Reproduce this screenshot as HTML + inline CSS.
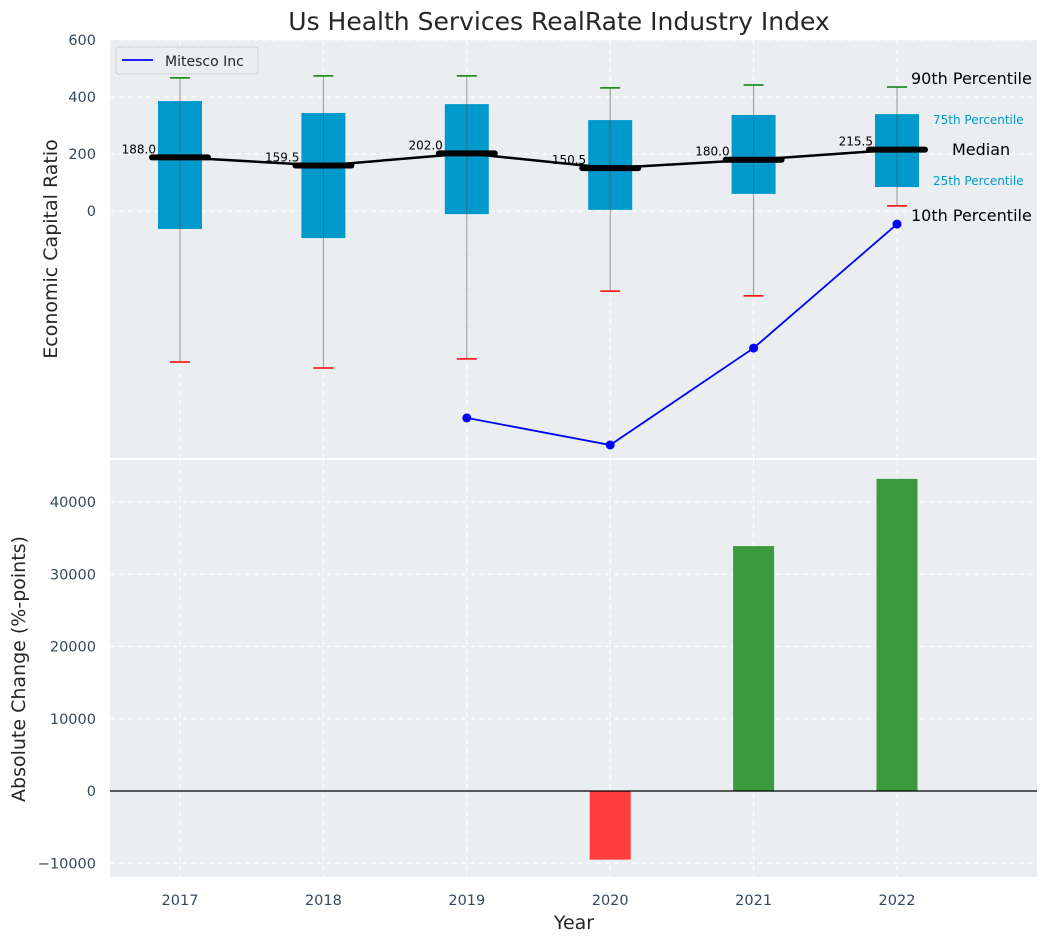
<!DOCTYPE html>
<html><head><meta charset="utf-8"><style>
body{margin:0;background:#fff;}
svg{display:block;font-family:"DejaVu Sans","Liberation Sans",sans-serif;}
</style></head><body>
<svg id="chart" width="1048" height="942" xmlns="http://www.w3.org/2000/svg"></svg>
<script>
const years=['2017','2018','2019','2020','2021','2022'];
const q75=[386,344,375,319,337,340];
const q25=[-63,-95,-11,4,60,84];
const p90=[467,474,474,432,442,435];
const p10=[-530,-551,-519,-281,-298,18];
const medians=[188.0,159.5,202.0,150.5,180.0,215.5];
const mitescoYears=['2019','2020','2021','2022'];
const mitescoVals=[-726,-821,-481,-46];
const changeVals=[null,null,null,-9500,33900,43200];
const topTicks=[600,400,200,0];
const botTicks=[40000,30000,20000,10000,0,-10000];

const NS='http://www.w3.org/2000/svg';
const svg=document.getElementById('chart');
function el(tag,attrs,parent){const e=document.createElementNS(NS,tag);for(const k in attrs)e.setAttribute(k,attrs[k]);(parent||svg).appendChild(e);return e;}
const L=110,R=1037;
const x=i=>180+i*143.4;
const xy=y=>x(years.indexOf(y));
const yT=v=>211-v*0.285;
const yB=v=>791-v*0.007225;

let t=el('text',{x:559,y:30,'text-anchor':'middle','font-size':25,fill:'#262626'});t.textContent='Us Health Services RealRate Industry Index';


let bg=el('rect',{x:L,y:40,width:R-L,height:418,fill:'#eaeef0'});

let bg2=el('rect',{x:L,y:460,width:R-L,height:417,fill:'#eaeef0'});


topTicks.forEach(v=>{
  el('line',{x1:L,x2:R,y1:yT(v),y2:yT(v),stroke:'#fff','stroke-dasharray':'5,4','stroke-width':1});
  const tx=el('text',{x:96,y:yT(v)+5,'text-anchor':'end','font-size':14.5,fill:'#34495e'});tx.textContent=v;
  
});
botTicks.forEach(v=>{
  el('line',{x1:L,x2:R,y1:yB(v),y2:yB(v),stroke:'#fff','stroke-dasharray':'5,4','stroke-width':1});
  const tx=el('text',{x:96,y:yB(v)+5,'text-anchor':'end','font-size':14.5,fill:'#34495e'});tx.textContent=(v<0?'\u2212'+(-v):v);
  
});
years.forEach((y,i)=>{
  el('line',{x1:x(i),x2:x(i),y1:40,y2:458,stroke:'#fff','stroke-dasharray':'5,4'});
  el('line',{x1:x(i),x2:x(i),y1:460,y2:877,stroke:'#fff','stroke-dasharray':'5,4'});
  const tx=el('text',{x:x(i),y:905,'text-anchor':'middle','font-size':14.5,fill:'#34495e'});tx.textContent=y;
  
});

years.forEach((y,i)=>{
  const b=el('rect',{x:x(i)-22,y:yT(q75[i]),width:44,height:yT(q25[i])-yT(q75[i]),fill:'#0099cc'});
  
  el('line',{x1:x(i),x2:x(i),y1:yT(p90[i]),y2:yT(p10[i]),stroke:'#555','stroke-opacity':0.6,'stroke-width':1});
  el('line',{x1:x(i)-10,x2:x(i)+10,y1:yT(p90[i]),y2:yT(p90[i]),stroke:'green','stroke-width':1.5});
  el('line',{x1:x(i)-10,x2:x(i)+10,y1:yT(p10[i]),y2:yT(p10[i]),stroke:'red','stroke-width':1.5});
});
let mp=el('polyline',{points:medians.map((m,i)=>x(i)+','+yT(m)).join(' '),fill:'none',stroke:'#000','stroke-width':2.5});

medians.forEach((m,i)=>{
  const s=el('line',{x1:x(i)-28,x2:x(i)+28,y1:yT(m),y2:yT(m),stroke:'#000','stroke-width':6,'stroke-linecap':'round'});
  
  const tx=el('text',{x:x(i)-24,y:yT(m)-4,'text-anchor':'end','font-size':12,fill:'#000'});tx.textContent=m.toFixed(1);
  
});
let ml=el('polyline',{points:mitescoVals.map((v,i)=>xy(mitescoYears[i])+','+yT(v)).join(' '),fill:'none',stroke:'blue','stroke-width':1.8});

mitescoVals.forEach((v,i)=>{const c=el('circle',{cx:xy(mitescoYears[i]),cy:yT(v),r:4.5,fill:'blue'});
  });

const ann=[[911,84,'90th Percentile',16,'#000'],[933,124,'75th Percentile',12,'#0099cc'],[952,155,'Median',16,'#000'],[933,185,'25th Percentile',12,'#0099cc'],[911,221,'10th Percentile',16,'#000']];
ann.forEach(a=>{const tx=el('text',{x:a[0],y:a[1],'font-size':a[3],fill:a[4]});tx.textContent=a[2];
  });

const lg=el('g',{});
el('rect',{x:116,y:47,width:142,height:27,rx:3,fill:'#eaeef0',stroke:'#d0d0d0'},lg);
el('line',{x1:122,x2:153,y1:60,y2:60,stroke:'blue','stroke-width':1.8},lg);
const lt=el('text',{x:165,y:66,'font-size':14,fill:'#262626'},lg);lt.textContent='Mitesco Inc';

changeVals.forEach((v,i)=>{ if(v===null)return;
  const r=el('rect',{x:x(i)-20.5,y:Math.min(yB(v),yB(0)),width:41,height:Math.abs(yB(v)-yB(0)),fill:v<0?'#ff3b3b':'#3a9a3c'});
  });
el('line',{x1:L,x2:R,y1:yB(0),y2:yB(0),stroke:'#000','stroke-width':1.2});

let a1=el('text',{x:57,y:249,'text-anchor':'middle','font-size':19,fill:'#262626',transform:'rotate(-90 57 249)'});a1.textContent='Economic Capital Ratio';

let a2=el('text',{x:25,y:669,'text-anchor':'middle','font-size':19,fill:'#262626',transform:'rotate(-90 25 669)'});a2.textContent='Absolute Change (%-points)';

let a3=el('text',{x:574,y:929,'text-anchor':'middle','font-size':19,fill:'#262626'});a3.textContent='Year';

</script>
</body></html>
